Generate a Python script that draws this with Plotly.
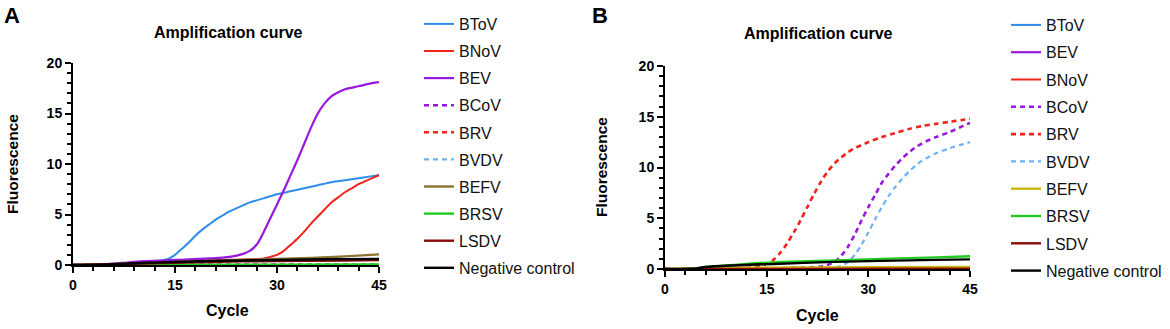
import plotly.graph_objects as go

W, H = 1170, 329

# ---------------- Panel A data ----------------
a_btov_x = [0, 5, 10, 12, 13, 14, 15, 16, 17, 18, 19, 20, 21, 22, 23, 24, 25, 26, 27, 28, 29, 30, 32, 34, 36, 38, 40, 42, 44, 45]
a_btov_y = [0, 0.05, 0.25, 0.35, 0.45, 0.6, 1.0, 1.6, 2.2, 2.9, 3.5, 4.0, 4.5, 4.9, 5.3, 5.6, 5.9, 6.2, 6.4, 6.6, 6.8, 7.0, 7.3, 7.6, 7.9, 8.2, 8.4, 8.6, 8.8, 8.9]

a_bnov_x = [0, 10, 15, 20, 25, 28, 29, 30, 31, 32, 33, 34, 35, 36, 37, 38, 39, 40, 41, 42, 43, 44, 45]
a_bnov_y = [0, 0.1, 0.25, 0.45, 0.55, 0.65, 0.8, 1.0, 1.4, 2.0, 2.6, 3.3, 4.1, 4.8, 5.5, 6.2, 6.7, 7.2, 7.6, 8.0, 8.3, 8.6, 8.9]

a_bev_x = [0, 5, 8, 10, 15, 20, 23, 25, 26, 27, 28, 29, 30, 31, 32, 33, 34, 35, 36, 37, 38, 39, 40, 42, 44, 45]
a_bev_y = [0, 0.1, 0.25, 0.35, 0.5, 0.65, 0.8, 1.1, 1.4, 2.0, 3.2, 4.6, 6.0, 7.4, 8.9, 10.4, 12.0, 13.6, 15.0, 16.0, 16.7, 17.1, 17.4, 17.7, 18.0, 18.1]

a_bcov_x = [0, 15, 30, 45]
a_bcov_y = [0, 0.0, 0.02, 0.02]
a_brv_x = [0, 15, 30, 45]
a_brv_y = [0, 0.02, 0.03, 0.03]
a_bvdv_x = [0, 15, 30, 45]
a_bvdv_y = [0, 0.01, 0.02, 0.02]
a_befv_x = [0, 5, 10, 15, 20, 25, 30, 35, 40, 45]
a_befv_y = [0, 0.05, 0.15, 0.3, 0.4, 0.5, 0.6, 0.7, 0.85, 1.05]
a_brsv_x = [0, 15, 30, 45]
a_brsv_y = [0, 0.03, 0.04, 0.05]
a_lsdv_x = [0, 10, 20, 30, 40, 45]
a_lsdv_y = [0, 0.15, 0.3, 0.4, 0.45, 0.5]
a_neg_x = [0, 5, 10, 15, 20, 25, 30, 35, 40, 45]
a_neg_y = [0, 0.05, 0.2, 0.3, 0.4, 0.45, 0.5, 0.55, 0.58, 0.6]

# ---------------- Panel B data ----------------
b_btov_x = [0, 15, 30, 45]
b_btov_y = [0, 0.02, 0.02, 0.02]
b_bev_x = [0, 15, 30, 45]
b_bev_y = [0, 0.03, 0.03, 0.03]
b_bnov_x = [0, 15, 30, 45]
b_bnov_y = [0, 0.02, 0.03, 0.03]

b_bcov_x = [0, 15, 20, 23, 24, 25, 26, 27, 28, 29, 30, 31, 32, 33, 34, 35, 36, 37, 38, 40, 42, 44, 45]
b_bcov_y = [0, 0.05, 0.15, 0.25, 0.4, 0.7, 1.3, 2.2, 3.4, 4.8, 6.1, 7.3, 8.5, 9.4, 10.2, 10.9, 11.5, 12.0, 12.4, 13.0, 13.5, 14.1, 14.4]

b_brv_x = [0, 10, 12, 14, 15, 16, 17, 18, 19, 20, 21, 22, 23, 24, 25, 26, 27, 28, 30, 32, 34, 36, 38, 40, 42, 44, 45]
b_brv_y = [0, 0.05, 0.1, 0.3, 0.5, 0.9, 1.6, 2.5, 3.6, 4.8, 6.1, 7.4, 8.6, 9.6, 10.4, 11.0, 11.5, 11.9, 12.5, 13.0, 13.4, 13.8, 14.1, 14.3, 14.5, 14.7, 14.8]

b_bvdv_x = [0, 20, 25, 26, 27, 28, 29, 30, 31, 32, 33, 34, 35, 36, 37, 38, 40, 42, 44, 45]
b_bvdv_y = [0, 0.05, 0.15, 0.3, 0.7, 1.4, 2.4, 3.6, 4.9, 6.1, 7.2, 8.1, 8.9, 9.6, 10.2, 10.7, 11.4, 11.9, 12.3, 12.5]

b_befv_x = [0, 5, 10, 20, 30, 45]
b_befv_y = [0, 0.08, 0.12, 0.15, 0.17, 0.2]
b_brsv_x = [0, 4, 6, 8, 12, 17, 25, 32, 40, 45]
b_brsv_y = [0, 0.02, 0.2, 0.3, 0.5, 0.7, 0.85, 1.0, 1.15, 1.25]
b_lsdv_x = [0, 15, 30, 45]
b_lsdv_y = [0, 0.01, 0.02, 0.02]
b_neg_x = [0, 4, 6, 10, 16, 25, 32, 40, 45]
b_neg_y = [0, 0.02, 0.2, 0.35, 0.5, 0.7, 0.8, 0.9, 0.95]

legend_a = ["BToV", "BNoV", "BEV", "BCoV", "BRV", "BVDV", "BEFV", "BRSV", "LSDV", "Negative control"]
legend_b = ["BToV", "BEV", "BNoV", "BCoV", "BRV", "BVDV", "BEFV", "BRSV", "LSDV", "Negative control"]

BLUE = "#2F8CEB"
RED = "#F2231B"
PURPLE = "#9A17DE"
LBLUE = "#6FB2F5"
BROWN_A = "#8A7434"
YELLOW_B = "#C9B80F"
GREEN = "#1FCB1F"
DARKRED = "#8B0A0A"
BLACK = "#000000"

DASH = "5px,4px"

style = {
    "BToV": (BLUE, "solid", 2),
    "BNoV": (RED, "solid", 2),
    "BEV": (PURPLE, "solid", 2.2),
    "BCoV": (PURPLE, DASH, 2.6),
    "BRV": (RED, DASH, 2.6),
    "BVDV": (LBLUE, DASH, 2.2),
    "BRSV": (GREEN, "solid", 2.4),
    "LSDV": (DARKRED, "solid", 2.4),
    "Negative control": (BLACK, "solid", 2.4),
}

series_a = {
    "BToV": (a_btov_x, a_btov_y), "BNoV": (a_bnov_x, a_bnov_y), "BEV": (a_bev_x, a_bev_y),
    "BCoV": (a_bcov_x, a_bcov_y), "BRV": (a_brv_x, a_brv_y), "BVDV": (a_bvdv_x, a_bvdv_y),
    "BEFV": (a_befv_x, a_befv_y), "BRSV": (a_brsv_x, a_brsv_y), "LSDV": (a_lsdv_x, a_lsdv_y),
    "Negative control": (a_neg_x, a_neg_y),
}
series_b = {
    "BToV": (b_btov_x, b_btov_y), "BEV": (b_bev_x, b_bev_y), "BNoV": (b_bnov_x, b_bnov_y),
    "BCoV": (b_bcov_x, b_bcov_y), "BRV": (b_brv_x, b_brv_y), "BVDV": (b_bvdv_x, b_bvdv_y),
    "BEFV": (b_befv_x, b_befv_y), "BRSV": (b_brsv_x, b_brsv_y), "LSDV": (b_lsdv_x, b_lsdv_y),
    "Negative control": (b_neg_x, b_neg_y),
}

fig = go.Figure()


def add_panel(series, order, xa, ya, leg, befv_color, gid):
    for name in order:
        x, y = series[name]
        if name == "BEFV":
            color, dash, w = befv_color, "solid", 2.4
        else:
            color, dash, w = style[name]
        fig.add_trace(go.Scatter(
            x=x, y=y, mode="lines", name=name,
            line=dict(color=color, dash=dash, width=w, shape="spline", smoothing=0.8),
            xaxis=xa, yaxis=ya, legend=leg, legendgroup=gid + name,
            showlegend=True, hoverinfo="skip",
        ))


add_panel(series_a, legend_a, "x", "y", "legend", BROWN_A, "a")
add_panel(series_b, legend_b, "x2", "y2", "legend2", YELLOW_B, "b")

FONT = "Liberation Sans, Arial, sans-serif"
tickfont = dict(family=FONT, size=14, color="black", weight="bold")


def xaxis(domain, anchor):
    return dict(domain=domain, anchor=anchor, range=[0, 45], tickmode="linear", tick0=0, dtick=15,
                showline=True, linecolor="black", linewidth=2, ticks="outside", ticklen=6,
                tickwidth=2, tickcolor="black", showgrid=False, zeroline=False, tickfont=tickfont,
                minor=dict(dtick=3, ticks="outside", ticklen=4, tickwidth=1.5, tickcolor="black"),
                fixedrange=True, automargin=False)


def yaxis(domain, anchor):
    return dict(domain=domain, anchor=anchor, range=[0, 20], tickmode="linear", tick0=0, dtick=5,
                showline=True, linecolor="black", linewidth=2, ticks="outside", ticklen=6,
                tickwidth=2, tickcolor="black", showgrid=False, zeroline=False, tickfont=tickfont,
                minor=dict(dtick=1, ticks="outside", ticklen=4, tickwidth=1.5, tickcolor="black"),
                fixedrange=True, automargin=False)


legfont = dict(family=FONT, size=16, color="#111111")

fig.update_layout(
    width=W, height=H,
    margin=dict(l=0, r=0, t=0, b=0, autoexpand=False),
    paper_bgcolor="white", plot_bgcolor="white",
    xaxis=xaxis([73 / W, 379 / W], "y"),
    yaxis=yaxis([1 - 265 / H, 1 - 63 / H], "x"),
    xaxis2=xaxis([665 / W, 970 / W], "y2"),
    yaxis2=yaxis([1 - 269 / H, 1 - 66 / H], "x2"),
    legend=dict(x=419 / W, y=1 - 7 / H, xanchor="left", yanchor="top", font=legfont,
                tracegroupgap=3.3, bgcolor="rgba(0,0,0,0)", itemwidth=30),
    legend2=dict(x=1006 / W, y=1 - 8 / H, xanchor="left", yanchor="top", font=legfont,
                 tracegroupgap=3.5, bgcolor="rgba(0,0,0,0)", itemwidth=30),
    showlegend=True,
)

ann = []
bold = lambda s: dict(family=FONT, size=s, color="black", weight="bold")
ann.append(dict(text="A", x=12 / W, y=1 - 15 / H, font=bold(22)))
ann.append(dict(text="B", x=600 / W, y=1 - 15 / H, font=bold(22)))
ann.append(dict(text="Amplification curve", x=228 / W, y=1 - 32 / H, font=bold(16)))
ann.append(dict(text="Amplification curve", x=818 / W, y=1 - 34 / H, font=bold(16)))
ann.append(dict(text="Fluorescence", x=12 / W, y=1 - 164 / H, font=bold(15.5), textangle=-90))
ann.append(dict(text="Fluorescence", x=601 / W, y=1 - 167 / H, font=bold(15.5), textangle=-90))
ann.append(dict(text="Cycle", x=227 / W, y=1 - 310 / H, font=bold(16)))
ann.append(dict(text="Cycle", x=817 / W, y=1 - 315 / H, font=bold(16)))
for a in ann:
    a.update(xref="paper", yref="paper", showarrow=False, xanchor="center", yanchor="middle")
fig.update_layout(annotations=ann)

fig.write_html("out.html", config={"displayModeBar": False},
               post_script="document.body.style.margin='0';document.body.style.overflow='hidden';")
